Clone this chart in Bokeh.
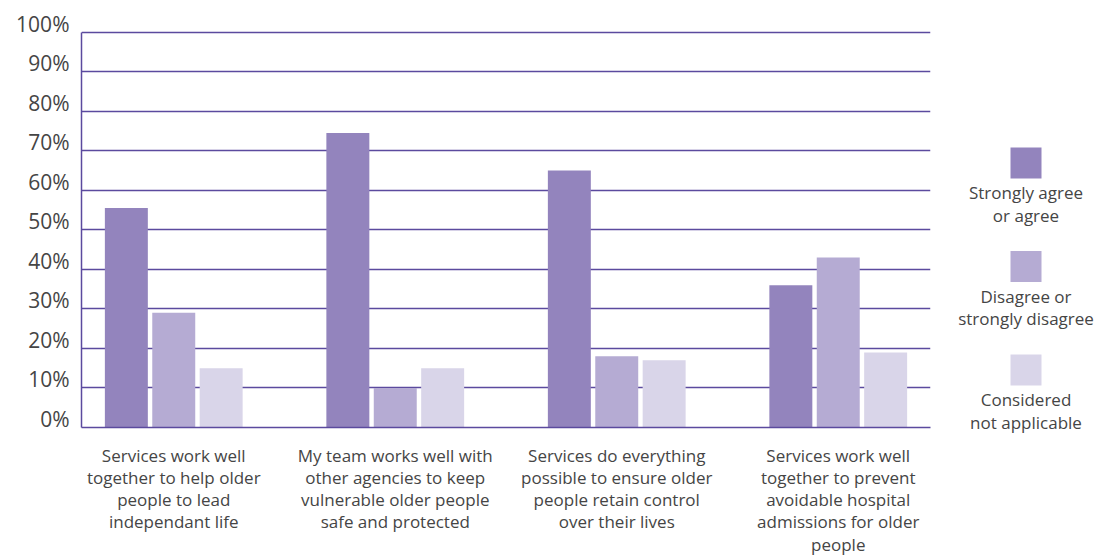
from bokeh.plotting import figure
from bokeh.models import (FactorRange, Range1d, FixedTicker, PrintfTickFormatter, ColumnDataSource,
                          LinearAxis)
from bokeh.transform import dodge
from bokeh.layouts import row
from bokeh.core.properties import value
from bokeh.embed import file_html
from bokeh.resources import INLINE

categories = [
    "Services work well\ntogether to help older\npeople to lead\nindependant life",
    "My team works well with\nother agencies to keep\nvulnerable older people\nsafe and protected",
    "Services do everything\npossible to ensure older\npeople retain control\nover their lives",
    "Services work well\ntogether to prevent\navoidable hospital\nadmissions for older\npeople",
]
series_names = ["Strongly agree\nor agree", "Disagree or\nstrongly disagree", "Considered\nnot applicable"]
agree = [55.5, 74.5, 65, 36]
disagree = [29, 10, 18, 43]
not_applicable = [15, 15, 17, 19]
colors = ["#9384bd", "#b5abd3", "#d9d5e9"]
y_ticks = [0, 10, 20, 30, 40, 50, 60, 70, 80, 90, 100]

FONT = "Open Sans"
TEXT_COLOR = "#454545"
GRID_COLOR = "#5b4a9e"
TOP = 23
LABEL_LIFT = 2.2  # tick labels sit on their gridline (baseline), not centred on it

src = ColumnDataSource(dict(cat=categories, agree=agree, disagree=disagree, na=not_applicable))

p = figure(x_range=FactorRange(*categories, range_padding=-0.0835, range_padding_units="absolute"),
           y_range=Range1d(0, 100 + LABEL_LIFT),
           frame_width=849, frame_height=404, output_backend="svg", toolbar_location=None,
           min_border_left=81, min_border_right=10, min_border_top=TOP, min_border_bottom=128)
p.extra_y_ranges = {"lab": Range1d(-LABEL_LIFT, 100)}

offs = [-0.214, 0.0, 0.214]
for col, off, c in zip(["agree", "disagree", "na"], offs, colors):
    p.vbar(x=dodge("cat", off, range=p.x_range), top=col, width=0.194, source=src,
           fill_color=c, line_color=None)

p.outline_line_color = None
p.background_fill_color = "white"
p.xgrid.grid_line_color = None
p.ygrid.grid_line_color = GRID_COLOR
p.ygrid.grid_line_width = 1.5
p.ygrid.ticker = FixedTicker(ticks=y_ticks)

# the default left axis only draws the purple vertical line from 0 to 100
p.yaxis.ticker = FixedTicker(ticks=y_ticks)
p.yaxis.bounds = (0, 100)
p.yaxis.axis_line_color = GRID_COLOR
p.yaxis.axis_line_width = 1.5
p.yaxis.major_tick_line_color = None
p.yaxis.minor_tick_line_color = None
p.yaxis.major_tick_out = 0
p.yaxis.major_tick_in = 0
p.yaxis.major_label_text_color = None
p.yaxis.major_label_text_font_size = "1px"
p.yaxis.major_label_standoff = 0

# labels axis
lab_axis = LinearAxis(y_range_name="lab", ticker=FixedTicker(ticks=y_ticks),
                      formatter=PrintfTickFormatter(format="%d%%"),
                      axis_line_color=None, major_tick_line_color=None, minor_tick_line_color=None,
                      major_tick_in=0, major_tick_out=0, major_label_standoff=12,
                      major_label_text_font=FONT, major_label_text_font_size="21px",
                      major_label_text_color=TEXT_COLOR)
p.add_layout(lab_axis, "left")

p.xaxis.axis_line_color = GRID_COLOR
p.xaxis.axis_line_width = 1.5
p.xaxis.major_tick_line_color = None
p.xaxis.minor_tick_line_color = None
p.xaxis.major_tick_out = 0
p.xaxis.major_tick_in = 0
p.xaxis.major_label_standoff = 16
p.xaxis.major_label_text_font = FONT
p.xaxis.major_label_text_font_size = "17px"
p.xaxis.major_label_text_color = TEXT_COLOR
p.xaxis.major_label_text_line_height = 0.97
p.xaxis.major_label_orientation = "horizontal"

# legend panel: data y equals page pixels
leg = figure(frame_width=156, frame_height=555 - TOP, x_range=Range1d(940, 1096), y_range=Range1d(555, TOP),
             output_backend="svg", toolbar_location=None,
             min_border_left=0, min_border_right=0, min_border_top=TOP, min_border_bottom=0,
             x_axis_location=None, y_axis_location=None)
leg.outline_line_color = None
leg.xgrid.grid_line_color = None
leg.ygrid.grid_line_color = None

n = len(series_names)
sq_y = [162.5 + 103.5 * i for i in range(n)]
lsrc = ColumnDataSource(dict(x=[1025.5] * n, y=sq_y, ty=[y + 18 for y in sq_y],
                             name=series_names, color=colors))
leg.rect(x="x", y="y", width=31, height=31, source=lsrc, fill_color="color", line_color=None)
leg.text(x="x", y="ty", text="name", source=lsrc, text_align="center", text_baseline="top",
         text_font=value(FONT), text_font_size="17px", text_color=TEXT_COLOR, text_line_height=0.99)

layout = row(p, leg)
open("out.html", "w").write(file_html(layout, INLINE))
